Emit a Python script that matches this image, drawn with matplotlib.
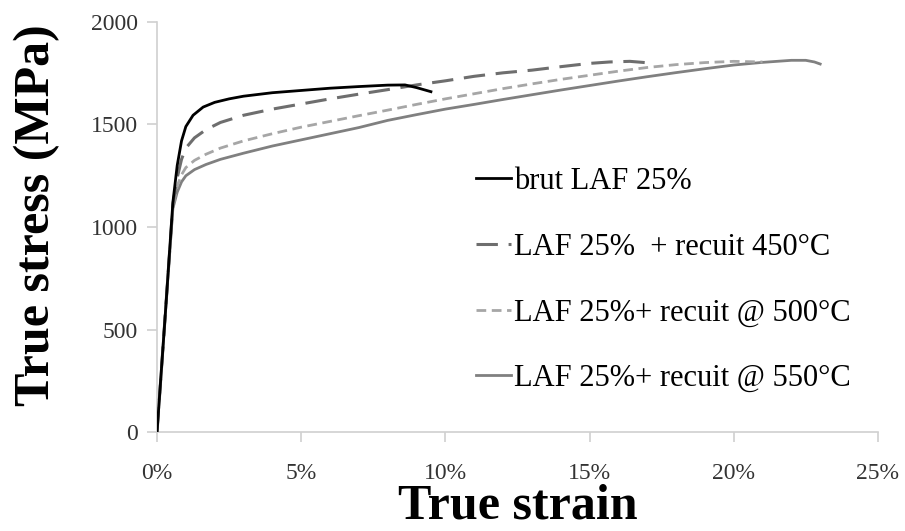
import matplotlib
matplotlib.use("Agg")
import matplotlib.pyplot as plt
from matplotlib.ticker import FuncFormatter

# Data (strain in %, stress in MPa)
brut_strain = [0, 0.3, 0.55, 0.7, 0.85, 1.0, 1.25, 1.6, 2.0, 2.5, 3.0, 4.0, 5.0, 6.0, 7.0, 8.0, 8.6, 9.0, 9.5]
brut_stress = [0, 600, 1120, 1300, 1420, 1490, 1545, 1585, 1608, 1625, 1638, 1655, 1666, 1677, 1685, 1692, 1693, 1680, 1660]

r450_strain = [0, 0.3, 0.55, 0.7, 0.85, 1.0, 1.3, 1.7, 2.2, 3.0, 4.0, 5.0, 6.0, 7.0, 8.0, 9.0, 10.0, 11.0, 12.0, 13.0, 14.0, 15.0, 15.7, 16.4, 17.1]
r450_stress = [0, 600, 1110, 1240, 1330, 1385, 1435, 1475, 1510, 1545, 1575, 1600, 1625, 1648, 1670, 1693, 1713, 1735, 1752, 1765, 1782, 1798, 1805, 1808, 1800]

r500_strain = [0, 0.3, 0.55, 0.7, 0.85, 1.0, 1.3, 1.7, 2.2, 3.0, 4.0, 5.0, 6.0, 7.0, 8.0, 9.0, 10.0, 11.0, 12.0, 13.0, 14.0, 15.0, 16.0, 17.0, 18.0, 19.0, 20.0, 21.0]
r500_stress = [0, 600, 1100, 1200, 1255, 1290, 1325, 1355, 1385, 1420, 1455, 1487, 1515, 1543, 1570, 1598, 1625, 1650, 1675, 1698, 1720, 1740, 1760, 1778, 1792, 1802, 1808, 1805]

r550_strain = [0, 0.3, 0.55, 0.7, 0.85, 1.0, 1.3, 1.7, 2.2, 3.0, 4.0, 5.0, 6.0, 7.0, 8.0, 9.0, 10.0, 11.0, 12.0, 13.0, 14.0, 15.0, 16.0, 17.0, 18.0, 19.0, 20.0, 21.0, 22.0, 22.5, 22.8, 23.0]
r550_stress = [0, 600, 1090, 1170, 1220, 1250, 1280, 1305, 1330, 1360, 1395, 1425, 1455, 1485, 1520, 1548, 1575, 1598, 1622, 1645, 1668, 1690, 1712, 1733, 1753, 1772, 1790, 1803, 1813, 1813, 1805, 1795]

labels = ["brut LAF 25%", "LAF 25%  + recuit 450°C", "LAF 25%+ recuit @ 500°C", "LAF 25%+ recuit @ 550°C"]
x_ticks = [0, 5, 10, 15, 20, 25]
y_ticks = [0, 500, 1000, 1500, 2000]

plt.rcParams['font.family'] = ['Liberation Serif', 'DejaVu Serif']

fig = plt.figure(figsize=(9.05, 5.31), dpi=100)
ax = fig.add_axes([0.1735, 0.1864, 0.7965, 0.7722])

ax.plot(r550_strain, r550_stress, color='#808080', lw=2.0, label=labels[3], zorder=2)
ax.plot(r500_strain, r500_stress, color='#a6a6a6', lw=2.0, ls=(0, (3.5, 2)), label=labels[2], zorder=3)
ax.plot(r450_strain, r450_stress, color='#6e6e6e', lw=2.2, ls=(0, (7, 3.5)), label=labels[1], zorder=4)
ax.plot(brut_strain, brut_stress, color='black', lw=2.0, label=labels[0], zorder=5)

ax.set_xlim(0, 25)
ax.set_ylim(0, 2000)
ax.set_xticks(x_ticks)
ax.set_yticks(y_ticks)
ax.xaxis.set_major_formatter(FuncFormatter(lambda v, p: f"{int(v)}%"))

for s in ['top', 'right']:
    ax.spines[s].set_visible(False)
for s in ['left', 'bottom']:
    ax.spines[s].set_color('#d0d0d0')
    ax.spines[s].set_linewidth(1.2)
ax.tick_params(axis='both', direction='out', length=7, width=1.2, color='#d0d0d0',
               labelsize=17, labelcolor='#333333')
ax.tick_params(axis='x', pad=15)
ax.tick_params(axis='y', pad=7)

ax.set_xlabel("True strain", fontsize=36, fontweight='bold')
ax.xaxis.set_label_coords(0.5, -0.125)
ax.set_ylabel("True stress (MPa)", fontsize=36, fontweight='bold')
ax.yaxis.set_label_coords(-0.134, 0.53)

handles, labs = ax.get_legend_handles_labels()
order = [3, 2, 1, 0]
leg = ax.legend([handles[i] for i in order], [labs[i] for i in order],
                loc='upper left', bbox_to_anchor=(0.442, 0.646), frameon=False,
                fontsize=22, handlelength=1.15, handletextpad=0.1, labelspacing=1.2,
                borderaxespad=0, borderpad=0)

fig.savefig("out.png", dpi=100)
